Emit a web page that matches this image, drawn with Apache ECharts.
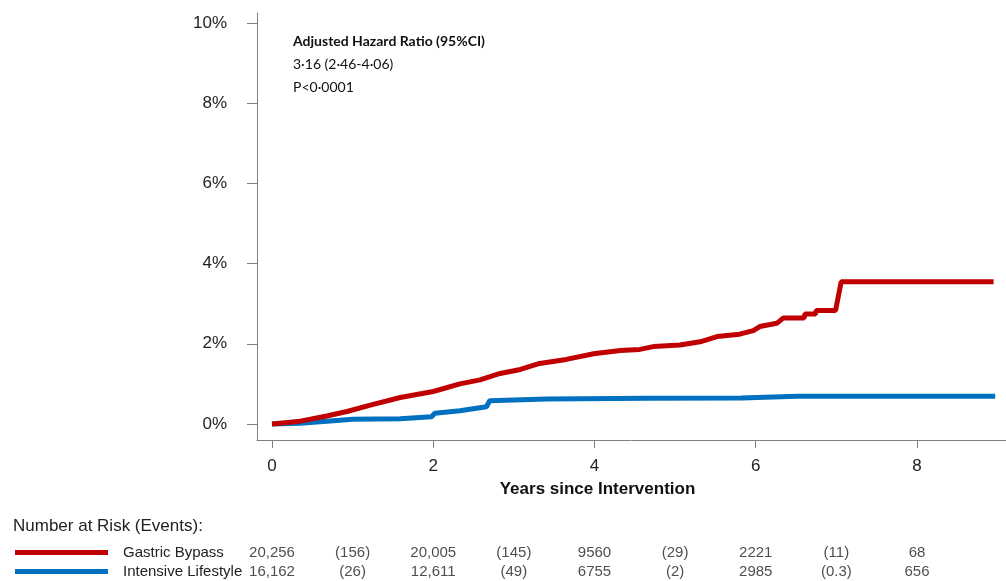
<!DOCTYPE html>
<html>
<head>
<meta charset="utf-8">
<script src="https://cdn.jsdelivr.net/npm/echarts@6/dist/echarts.min.js"></script>
<style>
  html, body { margin: 0; padding: 0; background: #fff; }
  #chart { width: 1006px; height: 581px; }
</style>
</head>
<body>
<div id="chart"></div>
<script>
// cumulative incidence (%), [years, percent]
let bypassCurve = [
  [0, 0], [0.10, 0.02], [0.35, 0.07], [0.68, 0.20], [0.93, 0.31], [1.22, 0.47],
  [1.59, 0.66], [2.00, 0.81], [2.33, 1.00], [2.58, 1.10], [2.83, 1.26], [3.08, 1.36],
  [3.32, 1.51], [3.65, 1.61], [3.99, 1.75], [4.32, 1.83], [4.56, 1.86], [4.73, 1.93],
  [5.06, 1.97], [5.31, 2.05], [5.52, 2.18], [5.80, 2.24], [5.97, 2.33], [6.05, 2.43],
  [6.26, 2.51], [6.34, 2.64], [6.60, 2.64], [6.61, 2.74], [6.74, 2.74], [6.75, 2.83],
  [6.99, 2.83], [7.06, 3.55], [8.95, 3.55]
];
let lifestyleCurve = [
  [0, 0], [0.35, 0.02], [0.68, 0.07], [1.00, 0.12], [1.59, 0.13], [1.98, 0.18],
  [2.02, 0.27], [2.33, 0.33], [2.66, 0.43], [2.70, 0.58], [3.41, 0.62], [4.65, 0.64],
  [5.82, 0.65], [5.84, 0.68], [6.51, 0.69], [8.97, 0.69]
];
let groups = ['Gastric Bypass', 'Intensive Lifestyle'];
let riskYears = [0, 2, 4, 6, 8];
let bypassAtRisk = ['20,256', '20,005', '9560', '2221', '68'];
let lifestyleAtRisk = ['16,162', '12,611', '6755', '2985', '656'];
let eventYears = [1, 3, 5, 7];
let bypassEvents = ['(156)', '(145)', '(29)', '(11)'];
let lifestyleEvents = ['(26)', '(49)', '(2)', '(0.3)'];
let xTicks = [0, 2, 4, 6, 8];
let yTicks = [0, 2, 4, 6, 8, 10];

let myChart = echarts.init(document.getElementById('chart'));

let tableData = [];
riskYears.forEach(function (yr, i) {
  tableData.push([yr, groups[0], bypassAtRisk[i]]);
  tableData.push([yr, groups[1], lifestyleAtRisk[i]]);
});
eventYears.forEach(function (yr, i) {
  tableData.push([yr, groups[0], bypassEvents[i]]);
  tableData.push([yr, groups[1], lifestyleEvents[i]]);
});

let font = 'Liberation Sans, Arial, sans-serif';
let xMin = -0.186, xMax = 9.104;

let option = {
  backgroundColor: '#fff',
  animation: false,
  grid: [
    { left: 257, right: 0, top: 13, bottom: 141 },
    { left: 257, right: 0, top: 543.5, height: 38 }
  ],
  xAxis: [
    {
      type: 'value', gridIndex: 0, min: xMin, max: xMax,
      axisLine: { onZero: false, lineStyle: { color: '#808080', width: 1 } },
      axisTick: { show: true, length: 8, customValues: xTicks, lineStyle: { color: '#808080' } },
      axisLabel: { customValues: xTicks, margin: 18, fontSize: 17, color: '#222', fontFamily: font },
      splitLine: { show: false },
      name: 'Years since Intervention',
      nameLocation: 'middle',
      nameGap: 41,
      nameTextStyle: { fontSize: 17, fontWeight: 'bold', color: '#111', fontFamily: font, padding: [0, 68, 0, 0] }
    },
    {
      type: 'value', gridIndex: 1, min: xMin, max: xMax, show: false
    }
  ],
  yAxis: [
    {
      type: 'value', gridIndex: 0, min: -0.4, max: 10.25,
      axisLine: { show: true, onZero: false, lineStyle: { color: '#808080', width: 1 } },
      axisTick: { show: true, length: 10, customValues: yTicks, lineStyle: { color: '#808080' } },
      axisLabel: {
        customValues: yTicks, margin: 30, fontSize: 17, color: '#222', fontFamily: font,
        formatter: function (v) { return v + '%'; }
      },
      splitLine: { show: false }
    },
    {
      type: 'category', gridIndex: 1, data: groups, inverse: true, show: false
    }
  ],
  legend: {
    data: groups,
    orient: 'vertical',
    left: 15,
    top: 545,
    padding: 0,
    icon: 'rect',
    itemWidth: 93,
    itemHeight: 5,
    itemGap: 4,
    selectedMode: false,
    textStyle: { fontSize: 15, color: '#222', fontFamily: font, lineHeight: 15, padding: [0, 0, 0, 10] }
  },
  graphic: [
    {
      type: 'text', left: 293, top: 34,
      style: { text: 'Adjusted Hazard Ratio (95%CI)', fontSize: 14, fontWeight: 'bold', fontFamily: 'Lato, sans-serif', fill: '#111' }
    },
    {
      type: 'text', left: 293, top: 57,
      style: { text: '3·16 (2·46-4·06)', fontSize: 14, fontFamily: 'Lato, sans-serif', fill: '#111' }
    },
    {
      type: 'text', left: 293, top: 80,
      style: { text: 'P<0·0001', fontSize: 14, fontFamily: 'Lato, sans-serif', fill: '#111' }
    },
    {
      type: 'text', left: 13, top: 518,
      style: { text: 'Number at Risk (Events):', fontSize: 17, fontFamily: font, fill: '#222' }
    }
  ],
  series: [
    {
      name: groups[0], type: 'line', xAxisIndex: 0, yAxisIndex: 0,
      data: bypassCurve, showSymbol: false, symbol: 'none',
      lineStyle: { color: '#C00000', width: 5 }, itemStyle: { color: '#C00000' }, z: 3
    },
    {
      name: groups[1], type: 'line', xAxisIndex: 0, yAxisIndex: 0,
      data: lifestyleCurve, showSymbol: false, symbol: 'none',
      lineStyle: { color: '#0070C0', width: 5 }, itemStyle: { color: '#0070C0' }, z: 2
    },
    {
      name: 'table', type: 'scatter', xAxisIndex: 1, yAxisIndex: 1,
      data: tableData, symbolSize: 1,
      itemStyle: { color: 'rgba(0,0,0,0)' },
      label: {
        show: true, position: 'inside', fontSize: 15, color: '#222', fontFamily: font,
        formatter: function (p) { return p.value[2]; }
      }
    }
  ]
};
myChart.setOption(option);
</script>
</body>
</html>
